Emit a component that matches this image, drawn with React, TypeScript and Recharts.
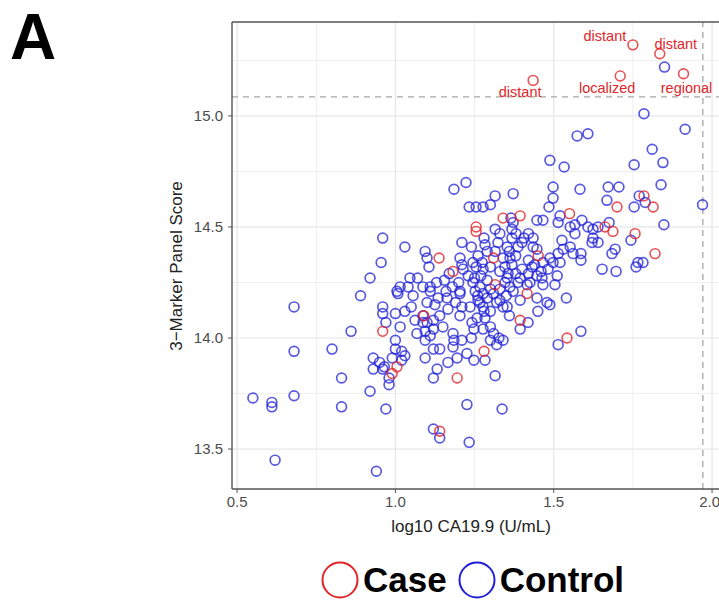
import { ScatterChart, Scatter, XAxis, YAxis, ReferenceLine } from "recharts"

// ─── Axis setup ────────────────────────────────────────────────────────────────

const X_TICKS = [0.5, 1.0, 1.5, 2.0]
const Y_TICKS = [13.5, 14.0, 14.5, 15.0]
const X_MINOR = [0.75, 1.25, 1.75]
const Y_MINOR = [13.75, 14.25, 14.75, 15.25]
const X_DOMAIN = [0.484, 2.022]
const Y_DOMAIN = [13.32, 15.423]

// cutoff lines (dashed)
const SCORE_CUTOFF = 15.086
const CA199_CUTOFF = 1.971

// ─── Data: [log10 CA19.9, 3-marker score] ─────────────────────────────────────

const CONTROL: [number, number][] = [
    [0.55, 13.73], [0.61, 13.71], [0.61, 13.69], [0.68, 13.74], [0.68, 14.14], [0.68, 13.94],
    [0.62, 13.45], [0.80, 13.95], [0.83, 13.82], [0.83, 13.69], [0.86, 14.03], [0.89, 14.19],
    [0.92, 13.76], [0.94, 13.40], [0.97, 13.68], [0.93, 13.91], [0.95, 13.89], [0.93, 13.86],
    [0.96, 13.86], [0.965, 13.87], [0.96, 14.14], [0.96, 14.11], [0.97, 14.07], [1.00, 14.11],
    [1.03, 14.12], [1.05, 14.14], [1.015, 14.05], [1.00, 13.99], [1.00, 13.95], [1.02, 13.94],
    [1.03, 13.92], [1.02, 13.90], [0.99, 13.91], [0.98, 13.82], [0.98, 13.79], [0.96, 14.45],
    [0.955, 14.34], [0.92, 14.27], [1.005, 14.21], [1.046, 14.27], [1.07, 14.27], [1.015, 14.23],
    [1.04, 14.23], [1.056, 14.19], [1.008, 14.20], [1.087, 14.23], [1.11, 14.23], [1.13, 14.25],
    [1.155, 14.26], [1.11, 14.21], [1.135, 14.18], [1.10, 14.16], [1.125, 14.15], [1.163, 14.18],
    [1.18, 14.23], [1.204, 14.20], [1.166, 14.13], [1.21, 14.14], [1.087, 14.10], [1.10, 14.07],
    [1.12, 14.08], [1.14, 14.10], [1.20, 14.25], [1.204, 14.21], [1.245, 14.25], [1.267, 14.23],
    [1.252, 14.21], [1.277, 14.20], [1.261, 14.17], [1.346, 14.25], [1.31, 14.20], [1.33, 14.17],
    [1.34, 14.14], [1.353, 14.27], [1.362, 14.23], [1.387, 14.25], [1.372, 14.21], [1.394, 14.17],
    [1.416, 14.24], [1.425, 14.25], [1.447, 14.18], [1.479, 14.16], [1.504, 14.24], [1.54, 14.18],
    [1.447, 14.28], [1.466, 14.24], [1.463, 14.27], [1.482, 14.31], [1.511, 14.28], [1.394, 14.27],
    [1.356, 14.29], [1.488, 14.36], [1.498, 14.34], [1.488, 14.15], [1.277, 14.31], [1.30, 14.32],
    [1.346, 14.32], [1.315, 14.39], [1.34, 14.36], [1.362, 14.36], [1.368, 14.33], [1.261, 14.37],
    [1.274, 14.34], [1.245, 14.34], [1.255, 14.32], [1.28, 14.45], [1.283, 14.42], [1.324, 14.43],
    [1.353, 14.41], [1.387, 14.41], [1.406, 14.45], [1.435, 14.45], [1.435, 14.41], [1.315, 14.49],
    [1.368, 14.49], [1.372, 14.52], [1.368, 14.45], [1.381, 14.47], [1.447, 14.40], [1.42, 14.35],
    [1.432, 14.32], [1.466, 14.34], [1.526, 14.44], [1.53, 14.40], [1.514, 14.38], [1.552, 14.41],
    [1.561, 14.38], [1.586, 14.38], [1.586, 14.35], [1.52, 14.34], [1.498, 14.68], [1.498, 14.63],
    [1.485, 14.59], [1.52, 14.55], [1.514, 14.52], [1.365, 14.54], [1.447, 14.53], [1.466, 14.53],
    [1.233, 14.59], [1.255, 14.59], [1.277, 14.59], [1.30, 14.60], [1.315, 14.64], [1.372, 14.65],
    [1.223, 14.70], [1.185, 14.67], [1.488, 14.80], [1.21, 14.43], [1.03, 14.41], [1.094, 14.39],
    [1.10, 14.36], [1.106, 14.32], [1.204, 14.36], [1.21, 14.33], [1.214, 14.31], [1.204, 14.10],
    [1.236, 14.14], [1.277, 14.14], [1.267, 14.16], [1.258, 14.09], [1.283, 14.09], [1.30, 14.12],
    [1.32, 14.16], [1.353, 14.14], [1.242, 14.07], [1.248, 14.04], [1.277, 14.04], [1.30, 14.05],
    [1.31, 14.02], [1.327, 14.00], [1.34, 13.99], [1.32, 13.97], [1.30, 13.99], [1.394, 14.04],
    [1.419, 14.07], [1.514, 13.97], [1.586, 14.03], [1.062, 14.08], [1.087, 14.07], [1.094, 14.03],
    [1.11, 14.01], [1.12, 14.04], [1.068, 14.02], [1.094, 13.99], [1.182, 14.02], [1.185, 13.99],
    [1.21, 13.99], [1.182, 13.96], [1.12, 13.95], [1.14, 13.95], [1.094, 13.91], [1.226, 13.93],
    [1.248, 13.90], [1.166, 13.89], [1.195, 13.91], [1.132, 13.86], [1.12, 13.82], [1.283, 13.90],
    [1.315, 13.83], [1.226, 13.70], [1.337, 13.68], [1.12, 13.59], [1.14, 13.55], [1.233, 13.53],
    [1.785, 15.01], [1.915, 14.94], [1.574, 14.91], [1.608, 14.92], [1.811, 14.85], [1.845, 14.79],
    [1.754, 14.78], [1.533, 14.77], [1.839, 14.69], [1.583, 14.67], [1.672, 14.68], [1.706, 14.68],
    [1.668, 14.62], [1.77, 14.64], [1.789, 14.61], [1.754, 14.59], [1.97, 14.60], [1.589, 14.53],
    [1.567, 14.51], [1.567, 14.47], [1.552, 14.50], [1.608, 14.50], [1.624, 14.49], [1.624, 14.45],
    [1.64, 14.50], [1.64, 14.43], [1.621, 14.43], [1.675, 14.52], [1.848, 14.51], [1.744, 14.44],
    [1.694, 14.40], [1.684, 14.38], [1.782, 14.34], [1.766, 14.34], [1.76, 14.32], [1.653, 14.31],
    [1.697, 14.30], [1.85, 15.22],
    // overlapped circles in the dense core
    [1.25, 14.27], [1.27, 14.28], [1.29, 14.26], [1.26, 14.19], [1.29, 14.18], [1.30, 14.22],
    [1.28, 14.12], [1.33, 14.22], [1.35, 14.19], [1.38, 14.29], [1.40, 14.31], [1.42, 14.29],
    [1.44, 14.33], [1.46, 14.30], [1.33, 14.30], [1.36, 14.39], [1.38, 14.37], [1.40, 14.43],
    [1.42, 14.47], [1.33, 14.47], [1.29, 14.39], [1.24, 14.41], [1.23, 14.28], [1.17, 14.29],
    [1.16, 14.21], [1.19, 14.16], [1.15, 14.05], [1.24, 14.00], [1.36, 14.10], [1.45, 14.12],
]

const CASE: [number, number][] = [
    [0.96, 14.03], [1.005, 13.87], [0.99, 13.84], [1.09, 14.10], [1.315, 14.24], [1.416, 14.20],
    [1.31, 14.36], [1.451, 14.37], [1.55, 14.56], [1.34, 14.54], [1.394, 14.55], [1.255, 14.50],
    [1.255, 14.48], [1.138, 14.36], [1.182, 14.30], [1.394, 14.08], [1.542, 14.00], [1.195, 13.82],
    [1.28, 13.94], [1.14, 13.58], [1.785, 14.64], [1.814, 14.59], [1.70, 14.59], [1.662, 14.50],
    [1.687, 14.48], [1.757, 14.47], [1.82, 14.38],
]

// cases above the score cutoff, with their stage
const LABELED_CASE: [number, number][] = [
    [1.435, 15.16], [1.71, 15.18], [1.75, 15.32], [1.835, 15.28], [1.91, 15.19],
]
const STAGE_LABELS = ["distant", "localized", "distant", "distant", "regional"]

// label nudges in px (like ggrepel placement)
const LABEL_NUDGE = [[-13, 17], [-13, 17], [-28, -4], [16, -5], [3, 19]]

// ─── Styles ────────────────────────────────────────────────────────────────────

const FONT = "'Liberation Sans', Arial, Helvetica, sans-serif"
const RED = "#e0262b"
const BLUE = "#2020d6"

const toRows = (pts: [number, number][]) => pts.map(([x, y], i) => ({ x, y, i }))

const tickStyle = { fill: "#4d4d4d", fontSize: 15, fontFamily: FONT }

function ControlDot(props: any) {
    const { cx, cy } = props
    if (cx == null || cy == null) return null
    return <circle cx={cx} cy={cy} r={4.9} fill="none" stroke={BLUE} strokeOpacity={0.75} strokeWidth={1.7} />
}

function CaseDot(props: any) {
    const { cx, cy } = props
    if (cx == null || cy == null) return null
    return <circle cx={cx} cy={cy} r={4.9} fill="none" stroke={RED} strokeOpacity={0.8} strokeWidth={1.6} />
}

function LabeledCaseDot(props: any) {
    const { cx, cy, payload } = props
    if (cx == null || cy == null) return null
    const [dx, dy] = LABEL_NUDGE[payload.i]
    return (
        <g>
            <circle cx={cx} cy={cy} r={4.9} fill="none" stroke={RED} strokeOpacity={0.8} strokeWidth={1.6} />
            <text x={cx + dx} y={cy + dy} textAnchor="middle" fill={RED} fontSize={14.5} fontFamily={FONT}>
                {STAGE_LABELS[payload.i]}
            </text>
        </g>
    )
}

// ─── Component ─────────────────────────────────────────────────────────────────

export default function App() {
    return (
        <div style={{ position: "absolute", left: 0, top: 0, width: 719, height: 604, background: "#fff", overflow: "hidden", fontFamily: FONT }}>
            <ScatterChart width={719} height={604} margin={{ top: 22, right: 0, bottom: 85, left: 172 }}>
                {X_MINOR.map((v) => (
                    <ReferenceLine key={`xm${v}`} x={v} stroke="#efefef" strokeWidth={1} />
                ))}
                {Y_MINOR.map((v) => (
                    <ReferenceLine key={`ym${v}`} y={v} stroke="#efefef" strokeWidth={1} />
                ))}
                {X_TICKS.map((v) => (
                    <ReferenceLine key={`xg${v}`} x={v} stroke="#e6e6e6" strokeWidth={1.2} />
                ))}
                {Y_TICKS.map((v) => (
                    <ReferenceLine key={`yg${v}`} y={v} stroke="#e6e6e6" strokeWidth={1.2} />
                ))}
                <ReferenceLine y={SCORE_CUTOFF} stroke="#a6a6a6" strokeWidth={1.3} strokeDasharray="6 5" />
                <ReferenceLine x={CA199_CUTOFF} stroke="#a6a6a6" strokeWidth={1.3} strokeDasharray="6 5" />
                <ReferenceLine y={Y_DOMAIN[1]} stroke="#555" strokeWidth={1.4} />
                <XAxis
                    type="number"
                    dataKey="x"
                    domain={X_DOMAIN}
                    ticks={X_TICKS}
                    allowDataOverflow
                    tickFormatter={(v: number) => v.toFixed(1)}
                    tick={tickStyle}
                    tickSize={4}
                    tickMargin={3}
                    height={30}
                    axisLine={{ stroke: "#555", strokeWidth: 1.4 }}
                    tickLine={{ stroke: "#555" }}
                />
                <YAxis
                    type="number"
                    dataKey="y"
                    domain={Y_DOMAIN}
                    ticks={Y_TICKS}
                    allowDataOverflow
                    tickFormatter={(v: number) => v.toFixed(1)}
                    tick={tickStyle}
                    tickSize={4}
                    tickMargin={5}
                    width={60}
                    axisLine={{ stroke: "#555", strokeWidth: 1.4 }}
                    tickLine={{ stroke: "#555" }}
                />
                <Scatter data={toRows(CONTROL)} shape={ControlDot} isAnimationActive={false} />
                <Scatter data={toRows(CASE)} shape={CaseDot} isAnimationActive={false} />
                <Scatter data={toRows(LABELED_CASE)} shape={LabeledCaseDot} isAnimationActive={false} />
            </ScatterChart>

            <div style={{ position: "absolute", left: 10, top: 1, fontSize: 64, fontWeight: 700, color: "#000", lineHeight: "72px" }}>A</div>

            <div
                style={{
                    position: "absolute", left: 177, top: 266, transform: "translate(-50%, -50%) rotate(-90deg)",
                    fontSize: 17, color: "#222", whiteSpace: "nowrap",
                }}
            >
                3−Marker Panel Score
            </div>
            <div
                style={{
                    position: "absolute", left: 471, top: 527, transform: "translate(-50%, -50%)",
                    fontSize: 17, color: "#222", whiteSpace: "nowrap",
                }}
            >
                log10 CA19.9 (U/mL)
            </div>

            <div style={{ position: "absolute", left: 320, top: 560, display: "flex", alignItems: "center" }}>
                <svg width={40} height={40}>
                    <circle cx={20} cy={20} r={17.5} fill="none" stroke={RED} strokeWidth={2} />
                </svg>
                <span style={{ fontSize: 35, fontWeight: 700, color: "#000", marginLeft: 3 }}>Case</span>
                <svg width={40} height={40} style={{ marginLeft: 10 }}>
                    <circle cx={20} cy={20} r={17.5} fill="none" stroke={BLUE} strokeWidth={2} />
                </svg>
                <span style={{ fontSize: 35, fontWeight: 700, color: "#000", marginLeft: 3 }}>Control</span>
            </div>
        </div>
    )
}
